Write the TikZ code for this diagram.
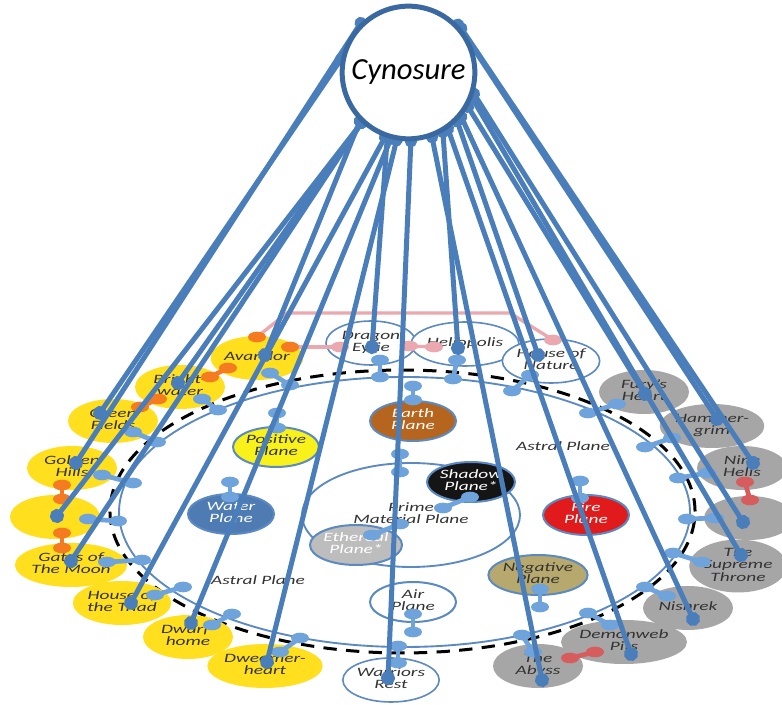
\documentclass[tikz,border=0pt]{standalone}
\usepackage{fontspec}
\setmainfont{Carlito}
\usepackage{graphicx}
\usetikzlibrary{shapes.geometric,arrows.meta}
\pgfdeclarelayer{fg}
\pgfsetlayers{main,fg}
\definecolor{linkblue}{HTML}{4A7EBB}
\definecolor{cynblue}{HTML}{3A68A0}
\definecolor{ringblue}{HTML}{5B89C2}
\definecolor{dblue}{HTML}{6FA3DC}
\definecolor{orng}{HTML}{F47B20}
\definecolor{redd}{HTML}{D65C5E}
\definecolor{pinkl}{HTML}{EBA8AE}
\definecolor{yel}{HTML}{FFDF1E}
\definecolor{gry}{HTML}{A6A6A6}
\definecolor{earthc}{HTML}{B5651D}
\definecolor{posit}{HTML}{F8F21A}
\definecolor{waterc}{HTML}{4F7BB3}
\definecolor{shadowc}{HTML}{151515}
\definecolor{firec}{HTML}{E11B1B}
\definecolor{ether}{HTML}{BDBDBD}
\definecolor{negat}{HTML}{B7A96D}
\definecolor{txt}{HTML}{333333}
\newcommand\lbl[1]{{\fontsize{14.5}{14}\selectfont\itshape\scalebox{1}[0.66]{\begin{tabular}{@{}c@{}}#1\end{tabular}}}}
\newcommand\dumb[3][dblue]{\draw[line width=3.5pt,#1] (#2)--(#3); \fill[#1] (#2) ellipse [x radius=6.75pt, y radius=4pt]; \fill[#1] (#3) ellipse [x radius=6.75pt, y radius=4pt];}
\newcommand\link[3]{\draw[link] (cyn.#1) -- ([shift={(#3)}]#2.center);}
\begin{document}
\begin{tikzpicture}[x=0.75pt,y=-0.75pt,
  outer/.style={ellipse, inner sep=0pt, minimum width=67.5pt, minimum height=33pt, text=txt},
  yelnode/.style={outer, fill=yel},
  grynode/.style={outer, fill=gry},
  whtnode/.style={outer, fill=white, draw=ringblue, line width=1.2pt},
  plane/.style={ellipse, inner sep=0pt, minimum width=64.5pt, minimum height=30pt, draw=ringblue, line width=1.5pt},
  link/.style={draw=linkblue, line width=3.75pt, {Circle[length=9pt]}-{Circle[length=10.5pt]}, shorten <=-4.5pt, shorten >=-5.25pt},
  pinkline/.style={draw=pinkl, line width=2.5pt}]
\useasboundingbox (0,0) rectangle (782,705);
\fill[white] (0,0) rectangle (782,705);
% rings
\draw[black, line width=2.25pt, dash pattern=on 10pt off 7pt] (402.5,511.5) ellipse [x radius=219.4pt, y radius=106.1pt];
\draw[ringblue, line width=1.4pt] (404.5,512) ellipse [x radius=214.1pt, y radius=101.25pt];
% prime material plane
\node[ellipse, inner sep=0pt, minimum width=163.5pt, minimum height=78pt, draw=ringblue, line width=1.4pt, text=txt] (prime) at (411,515) {\lbl{Prime\\Material Plane}};
\node[text=txt] (astral1) at (563,448) {\lbl{Astral Plane}};
\node[text=txt] (astral2) at (258,582) {\lbl{Astral Plane}};
% planes
\node[plane, fill=earthc, text=white] (earth) at (413,421) {\lbl{Earth\\Plane}};
\node[plane, fill=posit, text=txt] (positive) at (276,447) {\lbl{Positive\\Plane}};
\node[plane, fill=waterc, text=white] (water) at (231,514) {\lbl{Water\\Plane}};
\node[plane, fill=shadowc, text=white] (shadow) at (471,482) {\lbl{Shadow\\Plane*}};
\node[plane, fill=ether, text=white] (ethereal) at (356,545) {\lbl{Ethereal\\Plane*}};
\node[plane, fill=negat, text=txt] (negative) at (538,575) {\lbl{Negative\\Plane}};
\node[plane, fill=white, text=txt] (air) at (413,602) {\lbl{Air\\Plane}};
\node[plane, fill=firec, text=white] (fire) at (586,515) {\lbl{Fire\\Plane}};
% outer yellow
\node[yelnode] (avandor) at (257,358) {\lbl{Avandor}};
\node[yelnode] (brightwater) at (180,387) {\lbl{Bright-\\water}};
\node[yelnode] (greenfields) at (113,421) {\lbl{Green\\Fields}};
\node[yelnode] (goldenhills) at (72,468) {\lbl{Golden\\Hills}};
\node[yelnode] (blanky) at (55,517) {};
\node[yelnode] (gates) at (71,565) {\lbl{Gates of\\The Moon}};
\node[yelnode] (triad) at (122,603) {\lbl{House of\\the Triad}};
\node[yelnode] (dwarfhome) at (188,637) {\lbl{Dwarf-\\home}};
\node[yelnode] (dweomerheart) at (265,666) {\lbl{Dweomer-\\heart}};
% outer white
\node[whtnode] (dragon) at (371,343) {\lbl{Dragon\\Eyrie}};
\node[whtnode] (heliopolis) at (465,344) {\lbl{Heliopolis}};
\node[whtnode] (housenature) at (551,361) {\lbl{House of\\Nature}};
\node[whtnode] (warriors) at (391,680) {\lbl{Warriors\\Rest}};
% outer grey
\node[grynode] (furys) at (644,392) {\lbl{Fury's\\Heart}};
\node[grynode] (hammergrim) at (712,426) {\lbl{Hammer-\\grim}};
\node[grynode] (ninehells) at (742,468) {\lbl{Nine\\Hells}};
\node[grynode] (blankg) at (749,518) {};
\node[grynode] (supreme) at (738,566) {\lbl{The\\Supreme\\Throne}};
\node[grynode] (nishrek) at (688,608) {\lbl{Nishrek}};
\node[grynode] (demonweb) at (624,642) {\lbl{Demonweb\\Pits}};
\node[grynode] (abyss) at (538,666) {\lbl{The\\Abyss}};
% pink links
\draw[pinkline] (257,337) -- (287,313) -- (510,313) -- (553,340);
\fill[orng] (257,337) ellipse [x radius=6.75pt, y radius=4pt];
\fill[pinkl] (553,340) ellipse [x radius=6.75pt, y radius=4pt];
\draw[pinkline] (290,347) -- (340,347);
\fill[orng] (290,347) ellipse [x radius=6.75pt, y radius=4pt];
\fill[pinkl] (340,347) ellipse [x radius=6.75pt, y radius=4pt];
\draw[pinkline] (409,346) -- (434,347);
\fill[pinkl] (409,346) ellipse [x radius=6.75pt, y radius=4pt];
\fill[pinkl] (434,347) ellipse [x radius=6.75pt, y radius=4pt];
% orange / red dumbbells
\dumb[orng]{228,368}{210,377}
\dumb[orng]{158,399}{140,407}
\dumb[orng]{62,485}{62,499}
\dumb[orng]{62,533}{62,548}
\dumb[redd]{745,482}{750,500}
\dumb[redd]{570,658}{595,652}
% light blue dumbbells
\dumb{270,373}{290,385}
\dumb{202,399}{218,410}
\dumb{133,432}{157,442}
\dumb{102,475}{133,483}
\dumb{88,519}{118,521}
\dumb{107,562}{142,560}
\dumb{155,595}{183,587}
\dumb{212,625}{232,614}
\dumb{280,652}{300,638}
\dumb{398,646}{398,663}
\dumb{522,635}{533,652}
\dumb{588,613}{610,625}
\dumb{645,587}{667,596}
\dumb{673,553}{702,562}
\dumb{687,519}{715,518}
\dumb{678,478}{707,473}
\dumb{645,447}{672,438}
\dumb{588,413}{617,404}
\dumb{512,391}{530,375}
\dumb{380,360}{380,377}
\dumb{457,360}{453,379}
\dumb{413,386}{413,400}
\dumb{400,454}{400,472}
\dumb{277,413}{277,428}
\dumb{230,482}{230,497}
\dumb{470,497}{443,508}
\dumb{372,535}{400,524}
\dumb{580,481}{580,498}
\dumb{540,589}{540,607}
\dumb{413,614}{413,632}
% Cynosure
\begin{pgfonlayer}{fg}
\node[circle, minimum size=99.5pt, inner sep=0pt, draw=cynblue, line width=3.75pt, fill=white, font=\fontsize{23}{27}\selectfont\itshape, text=black] (cyn) at (408.5,72.5) {Cynosure};
\end{pgfonlayer}
% links
\link{134}{goldenhills}{4,-5}
\link{169}{greenfields}{-13,-8}
\link{227}{blanky}{2,-1}
\link{227}{gates}{0,-4}
\link{227}{brightwater}{-2,-4}
\link{225}{avandor}{8,-3}
\link{250}{triad}{9,0}
\link{255}{dwarfhome}{3,-14}
\link{260}{dweomerheart}{2,-4}
\link{252}{dragon}{1,4}
\link{272}{warriors}{-3,-2}
\link{290}{abyss}{4,14}
\link{300}{heliopolis}{-7,4}
\link{305}{demonweb}{7,12}
\link{315}{housenature}{-13,-6}
\link{320}{nishrek}{5,11}
\link{330}{furys}{1,2}
\link{44}{hammergrim}{5,-7}
\link{40}{ninehells}{11,-5}
\link{342}{blankg}{-6,4}
\link{338}{supreme}{3,-11}
\end{tikzpicture}
\end{document}
